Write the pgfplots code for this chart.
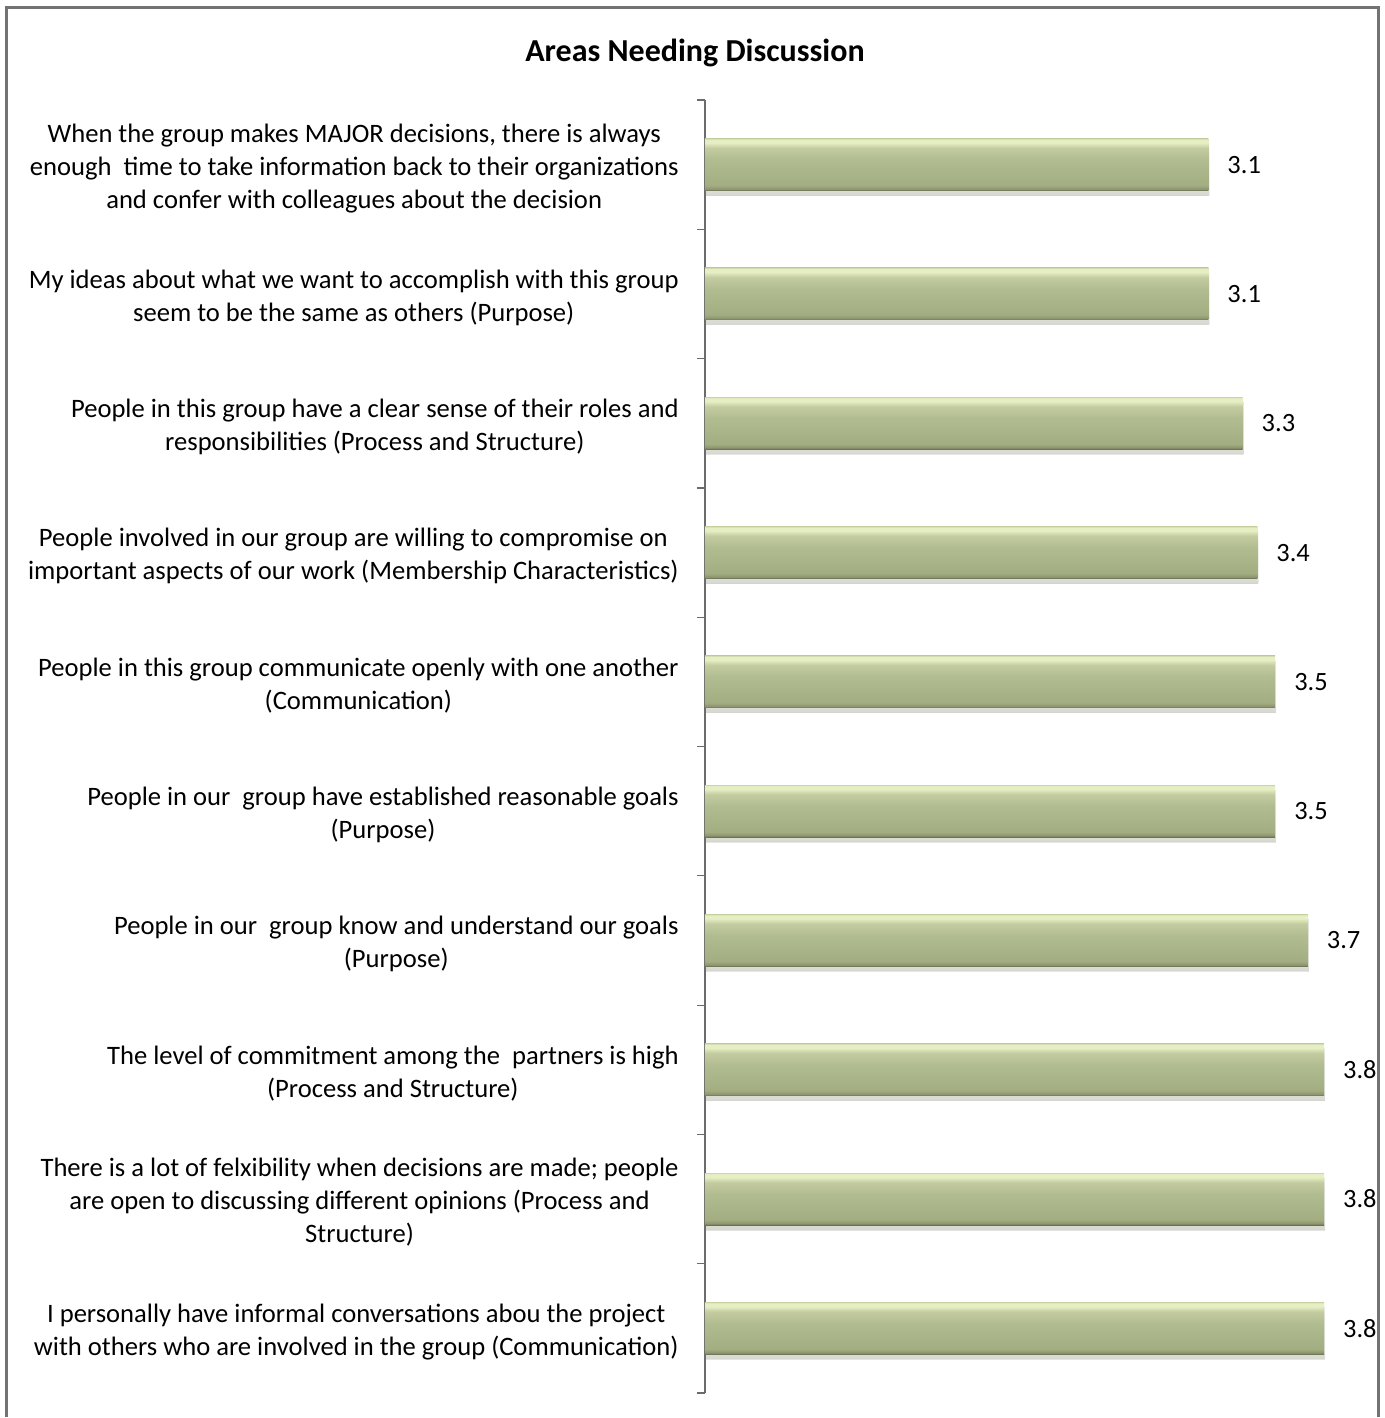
\documentclass[border=0pt]{standalone}
\usepackage{fontspec}
\setmainfont{Carlito}
\usepackage{pgfplots}
\pgfplotsset{compat=1.18}
\usetikzlibrary{shadows}
\definecolor{bA}{RGB}{104,110,80}
\definecolor{bB}{RGB}{140,149,110}
\definecolor{bC}{RGB}{163,173,130}
\definecolor{bD}{RGB}{177,188,144}
\definecolor{bE}{RGB}{194,204,160}
\definecolor{bF}{RGB}{230,238,196}
\definecolor{bG}{RGB}{208,217,170}
\pgfdeclareverticalshading{barshade}{100bp}{color(0bp)=(bA); color(25bp)=(bA); color(26.5bp)=(bB); color(30bp)=(bC); color(55bp)=(bD); color(66bp)=(bE); color(71bp)=(bF); color(74bp)=(bF); color(75bp)=(bG); color(100bp)=(bG)}
\begin{document}
\begin{tikzpicture}
\begin{pgfinterruptboundingbox}
\begin{axis}[
 name=ax,
 scale only axis,
 width=334pt, height=646.5pt,
 xbar, bar width=26pt, bar shift=0pt,
 xmin=0, xmax=4.1,
 ymin=0.5, ymax=10.5,
 y dir=reverse,
 clip=false,
 hide x axis,
 axis y line*=left,
 y axis line style={draw=gray!85!black, line width=0.6pt},
 ytick={1,2,3,4,5,6,7,8,9,10},
 yticklabels={
  {When the group makes MAJOR decisions, there is always\\enough\ \ time to take information back to their organizations\\and confer with colleagues about the decision},
  {My ideas about what we want to accomplish with this group\\seem to be the same as others (Purpose)},
  {People in this group have a clear sense of their roles and\\responsibilities (Process and Structure)},
  {People involved in our group are willing to compromise on\\important aspects of our work (Membership Characteristics)},
  {People in this group communicate openly with one another\\(Communication)},
  {People in our\ \ group have established reasonable goals\\(Purpose)},
  {People in our\ \ group know and understand our goals\\(Purpose)},
  {The level of commitment among the\ \ partners is high\\(Process and Structure)},
  {There is a lot of felxibility when decisions are made; people\\are open to discussing different opinions (Process and\\Structure)},
  {I personally have informal conversations abou the project\\with others who are involved in the group (Communication)}
 },
 major tick length=0pt,
 minor ytick={0.5,1.5,2.5,3.5,4.5,5.5,6.5,7.5,8.5,9.5,10.5},
 minor y tick style={draw=gray!85!black, line width=0.6pt},
 minor tick length=4pt,
 tick align=outside,
 yticklabel style={align=center, inner sep=0pt, xshift=-13pt, yshift=-1.75pt, font=\fontsize{13.3}{16.5}\selectfont},
 nodes near coords,
 nodes near coords align={horizontal},
 every node near coord/.append style={font=\fontsize{13.2}{16}\selectfont, black, xshift=6pt},
 /pgf/number format/fixed,
 /pgf/number format/precision=1,
 /pgf/number format/assume math mode=true,
 barstyle/.style={draw=none, shading=barshade, drop shadow={shadow xshift=0.5pt, shadow yshift=-2.5pt, opacity=0.18}},
]
\addplot[barstyle] coordinates {(3.09,1)};
\addplot[barstyle] coordinates {(3.09,2)};
\addplot[barstyle] coordinates {(3.3,3)};
\addplot[barstyle] coordinates {(3.39,4)};
\addplot[barstyle] coordinates {(3.5,5)};
\addplot[barstyle] coordinates {(3.5,6)};
\addplot[barstyle] coordinates {(3.7,7)};
\addplot[barstyle] coordinates {(3.8,8)};
\addplot[barstyle] coordinates {(3.8,9)};
\addplot[barstyle] coordinates {(3.8,10)};
\end{axis}
\end{pgfinterruptboundingbox}
\useasboundingbox ([xshift=-352.5pt,yshift=-12.5pt]ax.south west) rectangle ([xshift=6pt,yshift=50pt]ax.north east);
\node[font=\bfseries\fontsize{16}{19}\selectfont] at ([xshift=-5pt,yshift=23.5pt]ax.north west) {Areas Needing Discussion};
\draw[gray!90!black, line width=1.5pt] ([xshift=3.5pt,yshift=-3pt]current bounding box.south west) rectangle ([xshift=-3.5pt,yshift=-4pt]current bounding box.north east);
\draw[white, line width=3pt] ([xshift=-1pt,yshift=-1pt]current bounding box.south west) -- ([xshift=1pt,yshift=-1pt]current bounding box.south east);
\end{tikzpicture}
\end{document}
